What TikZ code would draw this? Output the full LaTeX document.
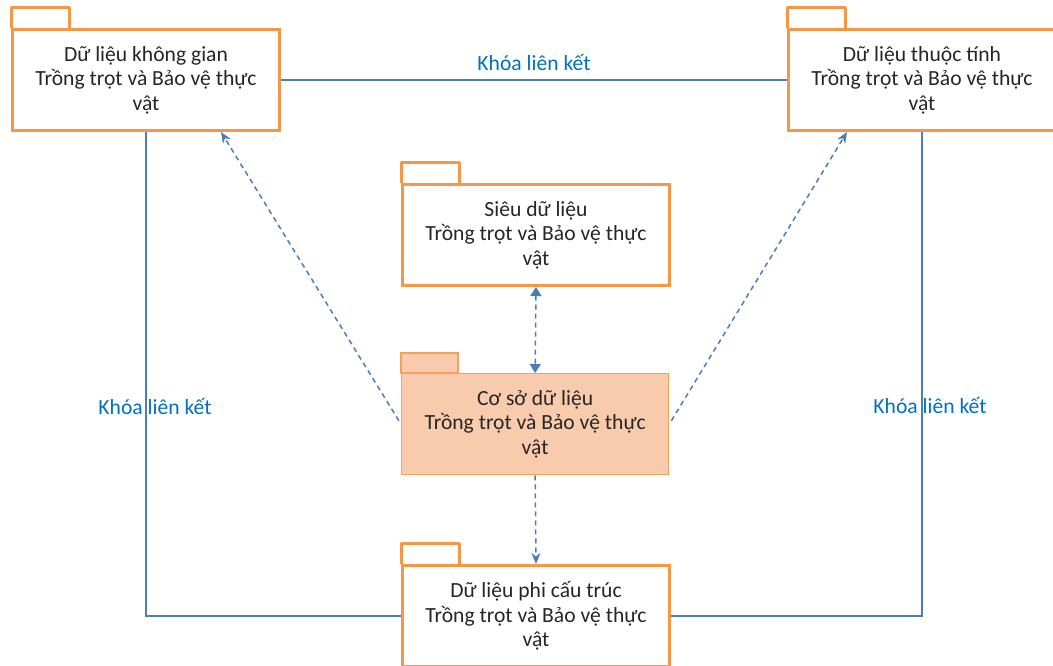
\documentclass[tikz,border=0pt]{standalone}
\usepackage{fontspec}
\setmainfont{Carlito}
\usetikzlibrary{arrows.meta,calc}
\definecolor{pkgorange}{HTML}{F79646}
\definecolor{pkgfill}{HTML}{F8CBAD}
\definecolor{linkblue}{HTML}{4A7EBB}
\definecolor{labelblue}{HTML}{0070C0}
\begin{document}
\begin{tikzpicture}[x=1pt,y=-1pt,
  pkg/.style={draw=pkgorange, line width=3pt, fill=white, anchor=north west,
    minimum width=267pt, minimum height=101pt, inner sep=0pt, align=center,
    font=\fontsize{21.6}{24.5}\selectfont, text=black!85},
  pkgmain/.style={pkg, draw=pkgorange!90, line width=1.3pt, fill=pkgfill},
  tabline/.style={draw=pkgorange, line width=3pt, fill=white, line join=round},
  tabmain/.style={draw=pkgorange!90, line width=1.3pt, fill=pkgfill},
  keyline/.style={draw=linkblue, line width=1.5pt},
  depline/.style={draw=linkblue, line width=1.5pt, dash pattern=on 5pt off 4pt},
  keylabel/.style={text=labelblue, font=\fontsize{21.6}{24.5}\selectfont},
  tipA/.style={-{Stealth[length=11pt,width=9pt]}},
  tipB/.style={{Triangle[length=9pt,width=11pt]}-{Triangle[length=9pt,width=11pt]}}
]
\useasboundingbox (0,0) rectangle (1053,665);
% packages
\draw[tabline] (11,28) -- (11,7) -- (69,7) -- (69,28);
\node[pkg] (b1) at (11,28) {Dữ liệu không gian\\Trồng trọt và Bảo vệ thực\\vật};
\draw[tabline] (787,28) -- (787,7) -- (845,7) -- (845,28);
\node[pkg] (b2) at (787,28) {Dữ liệu thuộc tính\\Trồng trọt và Bảo vệ thực\\vật};
\draw[tabline] (401,183) -- (401,162) -- (459,162) -- (459,183);
\node[pkg] (b3) at (401,183) {Siêu dữ liệu\\Trồng trọt và Bảo vệ thực\\vật};
\draw[tabmain] (401,373) -- (401,353) -- (458,353) -- (458,373) -- cycle;
\node[pkgmain] (b4) at (401,373) {Cơ sở dữ liệu\\Trồng trọt và Bảo vệ thực\\vật};
\draw[tabline] (401,564) -- (401,543) -- (459,543) -- (459,564);
\node[pkg] (b5) at (401,564) {Dữ liệu phi cấu trúc\\Trồng trọt và Bảo vệ thực\\vật};
% key links
\draw[keyline] (b1.east) -- node[keylabel, above=5pt, pos=0.5] (k1) {Khóa liên kết} (b2.west);
\draw[keyline] (b1.south) |- (b5.west);
\draw[keyline] (b2.south) |- (b5.east);
\node[keylabel] (k2) at (155,406) {Khóa liên kết};
\node[keylabel] (k3) at (930,405) {Khóa liên kết};
% dependencies
\draw[depline, tipA, shorten <=4pt] (b4.west) -- ([xshift=75pt]b1.south);
\draw[depline, tipA, shorten <=4pt] (b4.east) -- ([xshift=-75pt]b2.south);
\draw[depline, tipB] (b3.south) -- (b4.north);
\draw[depline, tipA] (b4.south) -- (b5.north);
\end{tikzpicture}
\end{document}
